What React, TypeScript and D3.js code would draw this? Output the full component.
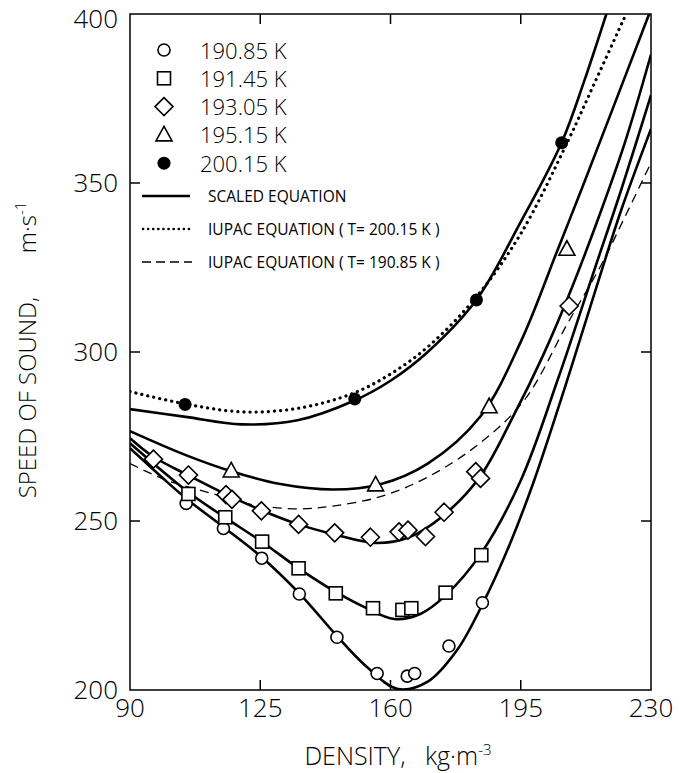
import React from 'react';
import * as d3 from 'd3';

// measured points, [density kg/m3, speed m/s]
const pts19085 = [[105.1, 255.2], [115.1, 247.8], [125.4, 239], [135.5, 228.4], [145.6, 215.6], [156.4, 204.9], [164.5, 204.1], [166.5, 204.9], [175.7, 213], [184.7, 225.8]];
const pts19145 = [[105.7, 258], [115.6, 251.1], [125.5, 243.9], [135.3, 236], [145.3, 228.6], [155.3, 224.2], [163.2, 223.7], [165.6, 224.2], [174.8, 228.8], [184.4, 239.9]];
const pts19305 = [[96.3, 268.3], [105.7, 263.6], [115.8, 257.8], [117.4, 256.4], [125.3, 253], [135.3, 249], [145, 246.5], [154.6, 245.2], [162.3, 246.8], [164.7, 247.3], [169.4, 245.4], [174.4, 252.6], [182.9, 264.6], [184.2, 262.6], [208, 313.6]];
const pts19515 = [[117.2, 264.8], [156, 260.7], [186.5, 283.8], [207.4, 330.4]];
const pts20015 = [[104.8, 284.5], [150.4, 286.1], [183.1, 315.4], [206, 361.9]];

// fitted curves
const scaled19085 = [[90, 271.5], [100, 261.5], [105.5, 256.3], [115, 248.3], [125.4, 239.3], [135.5, 228.6], [145.6, 216], [153, 207.5], [162, 200.3], [170, 202.5], [178, 212], [185, 226], [192, 243], [198.6, 262], [207, 290], [215, 318], [222, 342], [230, 366]];
const scaled19145 = [[90, 273], [105.7, 258.5], [115.6, 251], [125.5, 243.8], [135.3, 236], [145.3, 229], [153, 224.5], [161, 221], [168, 222.5], [174.8, 228], [184.4, 240.5], [195, 262], [205, 292], [215, 325], [222, 348], [230, 376]];
const scaled19305 = [[90, 274.5], [96.3, 269], [105.7, 263.5], [116, 257.8], [125.3, 253.2], [135.3, 249], [145, 246], [156, 243.5], [165, 245.2], [174.4, 251.8], [184, 263], [193, 281], [201, 299], [208, 317], [216, 340], [223, 362], [230, 388]];
const scaled19515 = [[90, 276.6], [105, 269.5], [117, 264.8], [130, 261], [144.7, 259.3], [157, 260.8], [170, 267], [184.2, 281], [195, 303], [204.9, 330.2], [212, 350], [229.5, 400]];
const scaled20015 = [[90, 283.1], [105, 280.8], [120, 278.6], [135, 279.8], [150, 285.5], [160, 291.5], [170, 300], [183, 315.3], [195, 338.5], [206, 362], [212, 380], [218, 400]];
const iupac20015 = [[90, 288.3], [105, 284.6], [120, 282.3], [135, 283.3], [150, 287.8], [160, 293.5], [170, 301.5], [183, 316.2], [195, 335], [207.5, 362], [215, 380], [223.3, 400]];
const iupac19085 = [[90, 267], [100, 262], [111.5, 258.3], [123, 254.8], [136, 253.6], [145, 254.5], [157.3, 257.2], [170, 263], [184, 273], [196, 285.8], [207.6, 308.5], [216.5, 325.5], [223, 340], [230, 356]];

const xTicks = [90, 125, 160, 195, 230];
const yTicks = [200, 250, 300, 350, 400];
const seriesLabels = ['190.85 K', '191.45 K', '193.05 K', '195.15 K', '200.15 K'];
const lineLabels = ['SCALED EQUATION', 'IUPAC EQUATION ( T= 200.15 K )', 'IUPAC EQUATION ( T= 190.85 K )'];

const W = 680;
const H = 773;
const left = 130, right = 651, top = 14, bottom = 690;
const font = "'Open Sans', 'DejaVu Sans', sans-serif";

const x = d3.scaleLinear().domain([90, 230]).range([left, right]);
const y = d3.scaleLinear().domain([200, 400]).range([bottom, top]);
const line = d3.line<number[]>().x(d => x(d[0])).y(d => y(d[1])).curve(d3.curveCatmullRom.alpha(0.5));

function Marker({ kind, cx, cy }: { kind: number; cx: number; cy: number }) {
  const s = { stroke: '#000', strokeWidth: 1.6, fill: '#fff' };
  if (kind === 0) return <circle cx={cx} cy={cy} r={6} {...s} />;
  if (kind === 1) return <rect x={cx - 6.5} y={cy - 6.5} width={13} height={13} {...s} />;
  if (kind === 2) return <path d={`M${cx},${cy - 9}L${cx + 9},${cy}L${cx},${cy + 9}L${cx - 9},${cy}Z`} {...s} />;
  if (kind === 3) return <path d={`M${cx},${cy - 8.5}L${cx + 8},${cy + 6}L${cx - 8},${cy + 6}Z`} {...s} />;
  return <circle cx={cx} cy={cy} r={6.5} fill="#000" />;
}

export default function App() {
  const pointSets = [pts19085, pts19145, pts19305, pts19515, pts20015];
  const scaled = [scaled19085, scaled19145, scaled19305, scaled19515, scaled20015];
  const inner = yTicks.slice(1, -1);
  const innerX = xTicks.slice(1, -1);
  return (
    <svg width={W} height={H} style={{ position: 'absolute', left: 0, top: 0, background: '#fff' }} fontFamily={font}>
      <defs>
        <clipPath id="plot"><rect x={left} y={top} width={right - left} height={bottom - top} /></clipPath>
      </defs>
      <g clipPath="url(#plot)" fill="none">
        {scaled.map((c, i) => <path key={i} d={line(c) || ''} stroke="#000" strokeWidth={2.6} />)}
        <path d={line(iupac20015) || ''} stroke="#000" strokeWidth={3.2} strokeDasharray="0.1 6" strokeLinecap="round" />
        <path d={line(iupac19085) || ''} stroke="#000" strokeWidth={1.3} strokeDasharray="9 6" />
      </g>
      {pointSets.map((ps, k) => ps.map((p, j) => <Marker key={k + '-' + j} kind={k} cx={x(p[0])} cy={y(p[1])} />))}

      <rect x={left} y={top} width={right - left} height={bottom - top} fill="none" stroke="#000" strokeWidth={1.5} />
      {innerX.map(t => (
        <g key={'x' + t} stroke="#000" strokeWidth={1.5}>
          <line x1={x(t)} x2={x(t)} y1={bottom} y2={bottom - 10} />
          <line x1={x(t)} x2={x(t)} y1={top} y2={top + 10} />
        </g>
      ))}
      {inner.map(t => (
        <g key={'y' + t} stroke="#000" strokeWidth={1.5}>
          <line x1={left} x2={left + 10} y1={y(t)} y2={y(t)} />
          <line x1={right} x2={right - 10} y1={y(t)} y2={y(t)} />
        </g>
      ))}
      {xTicks.map(t => (
        <text key={'xl' + t} x={x(t)} y={717} textAnchor="middle" fontSize={26} fontWeight={300}>{t}</text>
      ))}
      {yTicks.map(t => (
        <text key={'yl' + t} x={118} y={Math.max(y(t) + 9, 28)} textAnchor="end" fontSize={26} fontWeight={300}>{t}</text>
      ))}

      <text x={398} y={765} textAnchor="middle" fontSize={25} fontWeight={300} xmlSpace="preserve">
        DENSITY,   kg·m<tspan dy={-10} fontSize={15}>-3</tspan>
      </text>
      <text transform="translate(36,350) rotate(-90)" textAnchor="middle" fontSize={24} fontWeight={300} xmlSpace="preserve">
        SPEED OF SOUND,       m·s<tspan dy={-10} fontSize={15}>-1</tspan>
      </text>

      {seriesLabels.map((s, i) => {
        const cy = 50 + i * 28.3;
        return (
          <g key={s}>
            <Marker kind={i} cx={164} cy={cy} />
            <text x={200} y={cy + 8.5} fontSize={22} fontWeight={300}>{s}</text>
          </g>
        );
      })}
      {lineLabels.map((s, i) => {
        const cy = 196 + i * 33;
        return (
          <g key={s}>
            {i === 0 && <line x1={142} x2={190} y1={cy} y2={cy} stroke="#000" strokeWidth={2.6} />}
            {i === 1 && <line x1={143} x2={190} y1={cy} y2={cy} stroke="#000" strokeWidth={2.6} strokeDasharray="0.1 5" strokeLinecap="round" />}
            {i === 2 && <line x1={142} x2={192} y1={cy} y2={cy} stroke="#000" strokeWidth={1.3} strokeDasharray="9 5" />}
            <text x={208} y={cy + 5.5} fontSize={15.5}>{s}</text>
          </g>
        );
      })}
    </svg>
  );
}
